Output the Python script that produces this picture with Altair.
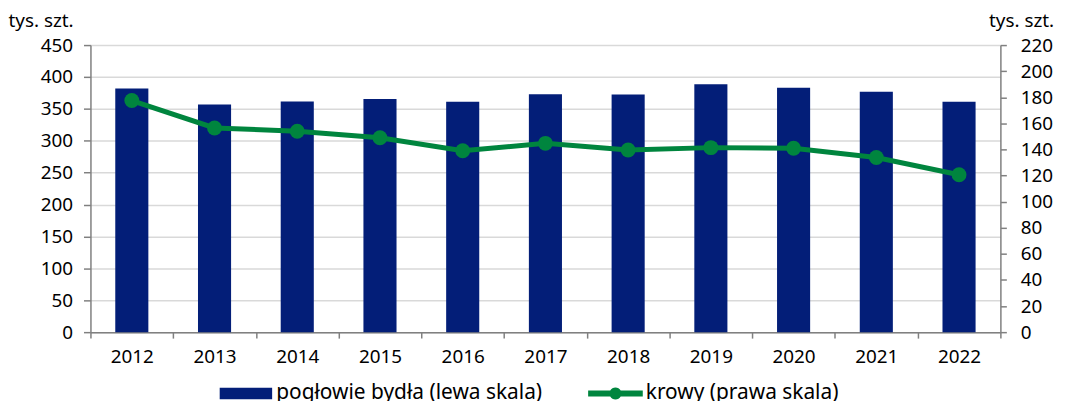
import altair as alt
import pandas as pd

years = ["2012", "2013", "2014", "2015", "2016", "2017", "2018", "2019", "2020", "2021", "2022"]
cattle = [382, 357, 361.5, 365.5, 361, 373, 372.5, 388.5, 383, 377, 361]
cows = [177.5, 156.5, 154, 149, 139, 144.7, 139.6, 141.4, 140.9, 133.8, 120.6]

series_names = ["pogłowie bydła (lewa skala)", "krowy  (prawa skala)"]
series_colors = ["#031e78", "#00853e"]

left_ticks = list(range(0, 451, 50))
right_ticks = list(range(0, 221, 20))

FONT = "Noto Sans"
AXIS_GRAY = "#808080"

df = pd.DataFrame({"year": years, "cattle": cattle, "cows": cows})
leg_df = pd.DataFrame({"s": series_names})

x_axis = alt.Axis(
    title=None, tickBand="extent", labelAngle=0, labelFontSize=19, labelFont=FONT,
    labelColor="black", labelPadding=10, tickSize=6, tickColor=AXIS_GRAY,
    domainColor=AXIS_GRAY, tickWidth=1.5, domainWidth=1.5, grid=False,
)
x_enc = alt.X("year:O", axis=x_axis, scale=alt.Scale(paddingInner=0, paddingOuter=0))

bars = alt.Chart(df).mark_bar(width=alt.RelativeBandSize(0.4), color=series_colors[0]).encode(
    x=x_enc,
    y=alt.Y(
        "cattle:Q",
        scale=alt.Scale(domain=[0, 450], nice=False),
        axis=alt.Axis(
            title="tys. szt.", titleAngle=0, titleAlign="left", titleBaseline="alphabetic",
            titleX=-83, titleY=-19, titleFontSize=19, titleFont=FONT, titleFontWeight="normal",
            titleColor="black", values=left_ticks, labelFontSize=19, labelFont=FONT,
            labelColor="black", labelPadding=11, tickSize=7, tickColor=AXIS_GRAY,
            domainColor=AXIS_GRAY, tickWidth=1.5, domainWidth=1.5, grid=True,
            gridColor="#d9d9d9", gridWidth=1.5,
        ),
    ),
)

line = alt.Chart(df).mark_line(
    color=series_colors[1], strokeWidth=5,
    point=alt.OverlayMarkDef(filled=True, size=225, color=series_colors[1], opacity=1),
).encode(
    x=x_enc,
    y=alt.Y(
        "cows:Q",
        scale=alt.Scale(domain=[0, 220], nice=False),
        axis=alt.Axis(
            orient="right", title="tys. szt.", titleAngle=0, titleAlign="left",
            titleBaseline="alphabetic", titleX=-12, titleY=-19, titleFontSize=19,
            titleFont=FONT, titleFontWeight="normal", titleColor="black",
            values=right_ticks, labelFontSize=19, labelFont=FONT, labelColor="black",
            labelPadding=14, tickSize=6, tickColor=AXIS_GRAY, domainColor=AXIS_GRAY,
            tickWidth=1.5, domainWidth=1.5, grid=False,
        ),
    ),
)

rect_path = "M-0.96,-0.21 H0.96 V0.21 H-0.96 Z"
line_path = ("M-1,-0.11 H-0.1916 A0.22,0.22 0 0,1 0.1916,-0.11 H1 V0.11 H0.1916 "
             "A0.22,0.22 0 0,1 -0.1916,0.11 H-1 Z")

legend_props = dict(
    title=None, orient="none", legendX=129, legendY=323, direction="horizontal",
    columns=2, symbolSize=3025, symbolOpacity=1, symbolStrokeWidth=0,
    labelFontSize=21, labelFont=FONT, labelColor="black", labelOffset=3,
    columnPadding=46, padding=0, labelLimit=400,
)

legend_layer = alt.Chart(leg_df).mark_point(filled=True, opacity=0).encode(
    color=alt.Color(
        "s:N",
        scale=alt.Scale(domain=series_names, range=series_colors),
        legend=alt.Legend(**legend_props),
    ),
    shape=alt.Shape(
        "s:N",
        scale=alt.Scale(domain=series_names, range=[rect_path, line_path]),
        legend=alt.Legend(**legend_props),
    ),
)

chart = alt.layer(bars, line, legend_layer).resolve_scale(y="independent").properties(
    width=916, height=289,
    autosize=alt.AutoSizeParams(type="none"),
    padding={"left": 83, "top": 36, "right": 60, "bottom": 70},
).configure_view(stroke=None)

chart.save("out.html", embed_options={"renderer": "svg", "actions": False})
